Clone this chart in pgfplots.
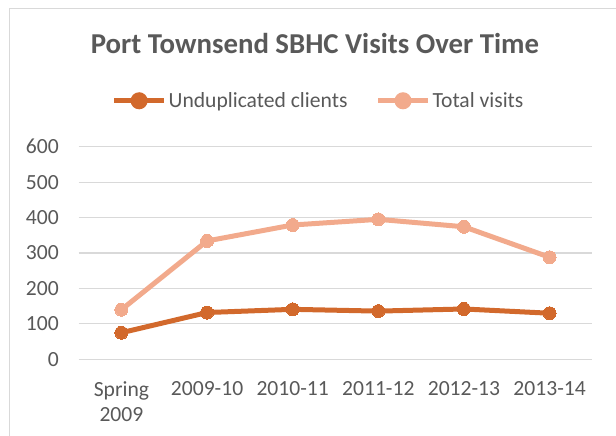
\documentclass[border=0pt]{standalone}
\usepackage{fontspec}
\setmainfont{Carlito}
\usepackage{pgfplots}
\pgfplotsset{compat=1.18}
\definecolor{darkor}{HTML}{D2692C}
\definecolor{lightor}{HTML}{F2AA8C}
\definecolor{txt}{HTML}{595959}
\definecolor{gridc}{HTML}{D9D9D9}
\begin{document}
\begin{tikzpicture}[x=1bp,y=1bp]
\path[use as bounding box] (0,0) rectangle (616,436);
\clip (0,0) rectangle (616,436);
\draw[gridc, line width=1.2bp] (9.5,-20) -- (9.5,427.5) -- (700,427.5);
\node[font=\fontsize{28.8bp}{33bp}\selectfont\bfseries, text=txt, anchor=base, inner sep=0pt] at (315,382.5) {Port Townsend SBHC Visits Over Time};
\begin{axis}[
  at={(78.6bp,76.7bp)}, anchor=south west,
  scale only axis, width=513.8bp, height=212.6bp,
  xmin=-0.5, xmax=5.5, ymin=0, ymax=600,
  axis line style={draw=none},
  ytick={0,100,...,600},
  xtick={0,1,2,3,4,5},
  xticklabels={{Spring\\2009},2009-10,2010-11,2011-12,2012-13,2013-14},
  x tick label style={align=center, font=\fontsize{21.6bp}{25.5bp}\selectfont, text=txt, anchor=north, inner sep=0pt, yshift=-22bp},
  y tick label style={font=\fontsize{21.6bp}{25bp}\selectfont, text=txt, anchor=east, inner sep=0pt, xshift=-19.6bp},
  /pgf/number format/assume math mode=true,
  major tick length=0pt,
  ymajorgrids, grid style={gridc, line width=1.2bp},
  legend columns=2,
  legend style={draw=none, fill=none, at={(0.467,1.216)}, anchor=center,
    font=\fontsize{21.6bp}{25bp}\selectfont, text=txt,
    /tikz/every even column/.append style={column sep=26bp}},
  legend image code/.code={
    \draw[#1, mark=none] (0bp,0bp) -- (50bp,0bp);
    \fill[#1] (25bp,0bp) circle (6bp);
  },
]
\addplot[darkor, line width=5bp, mark=*, mark size=6.5bp, mark options={line width=0pt}] coordinates {
(0,75) (1,132) (2,141) (3,136) (4,142) (5,130)};
\addlegendentry{Unduplicated clients}
\addplot[lightor, line width=5bp, mark=*, mark size=6.5bp, mark options={line width=0pt}] coordinates {
(0,140) (1,334) (2,379) (3,395) (4,374) (5,288)};
\addlegendentry{Total visits}
\end{axis}
\end{tikzpicture}
\end{document}
